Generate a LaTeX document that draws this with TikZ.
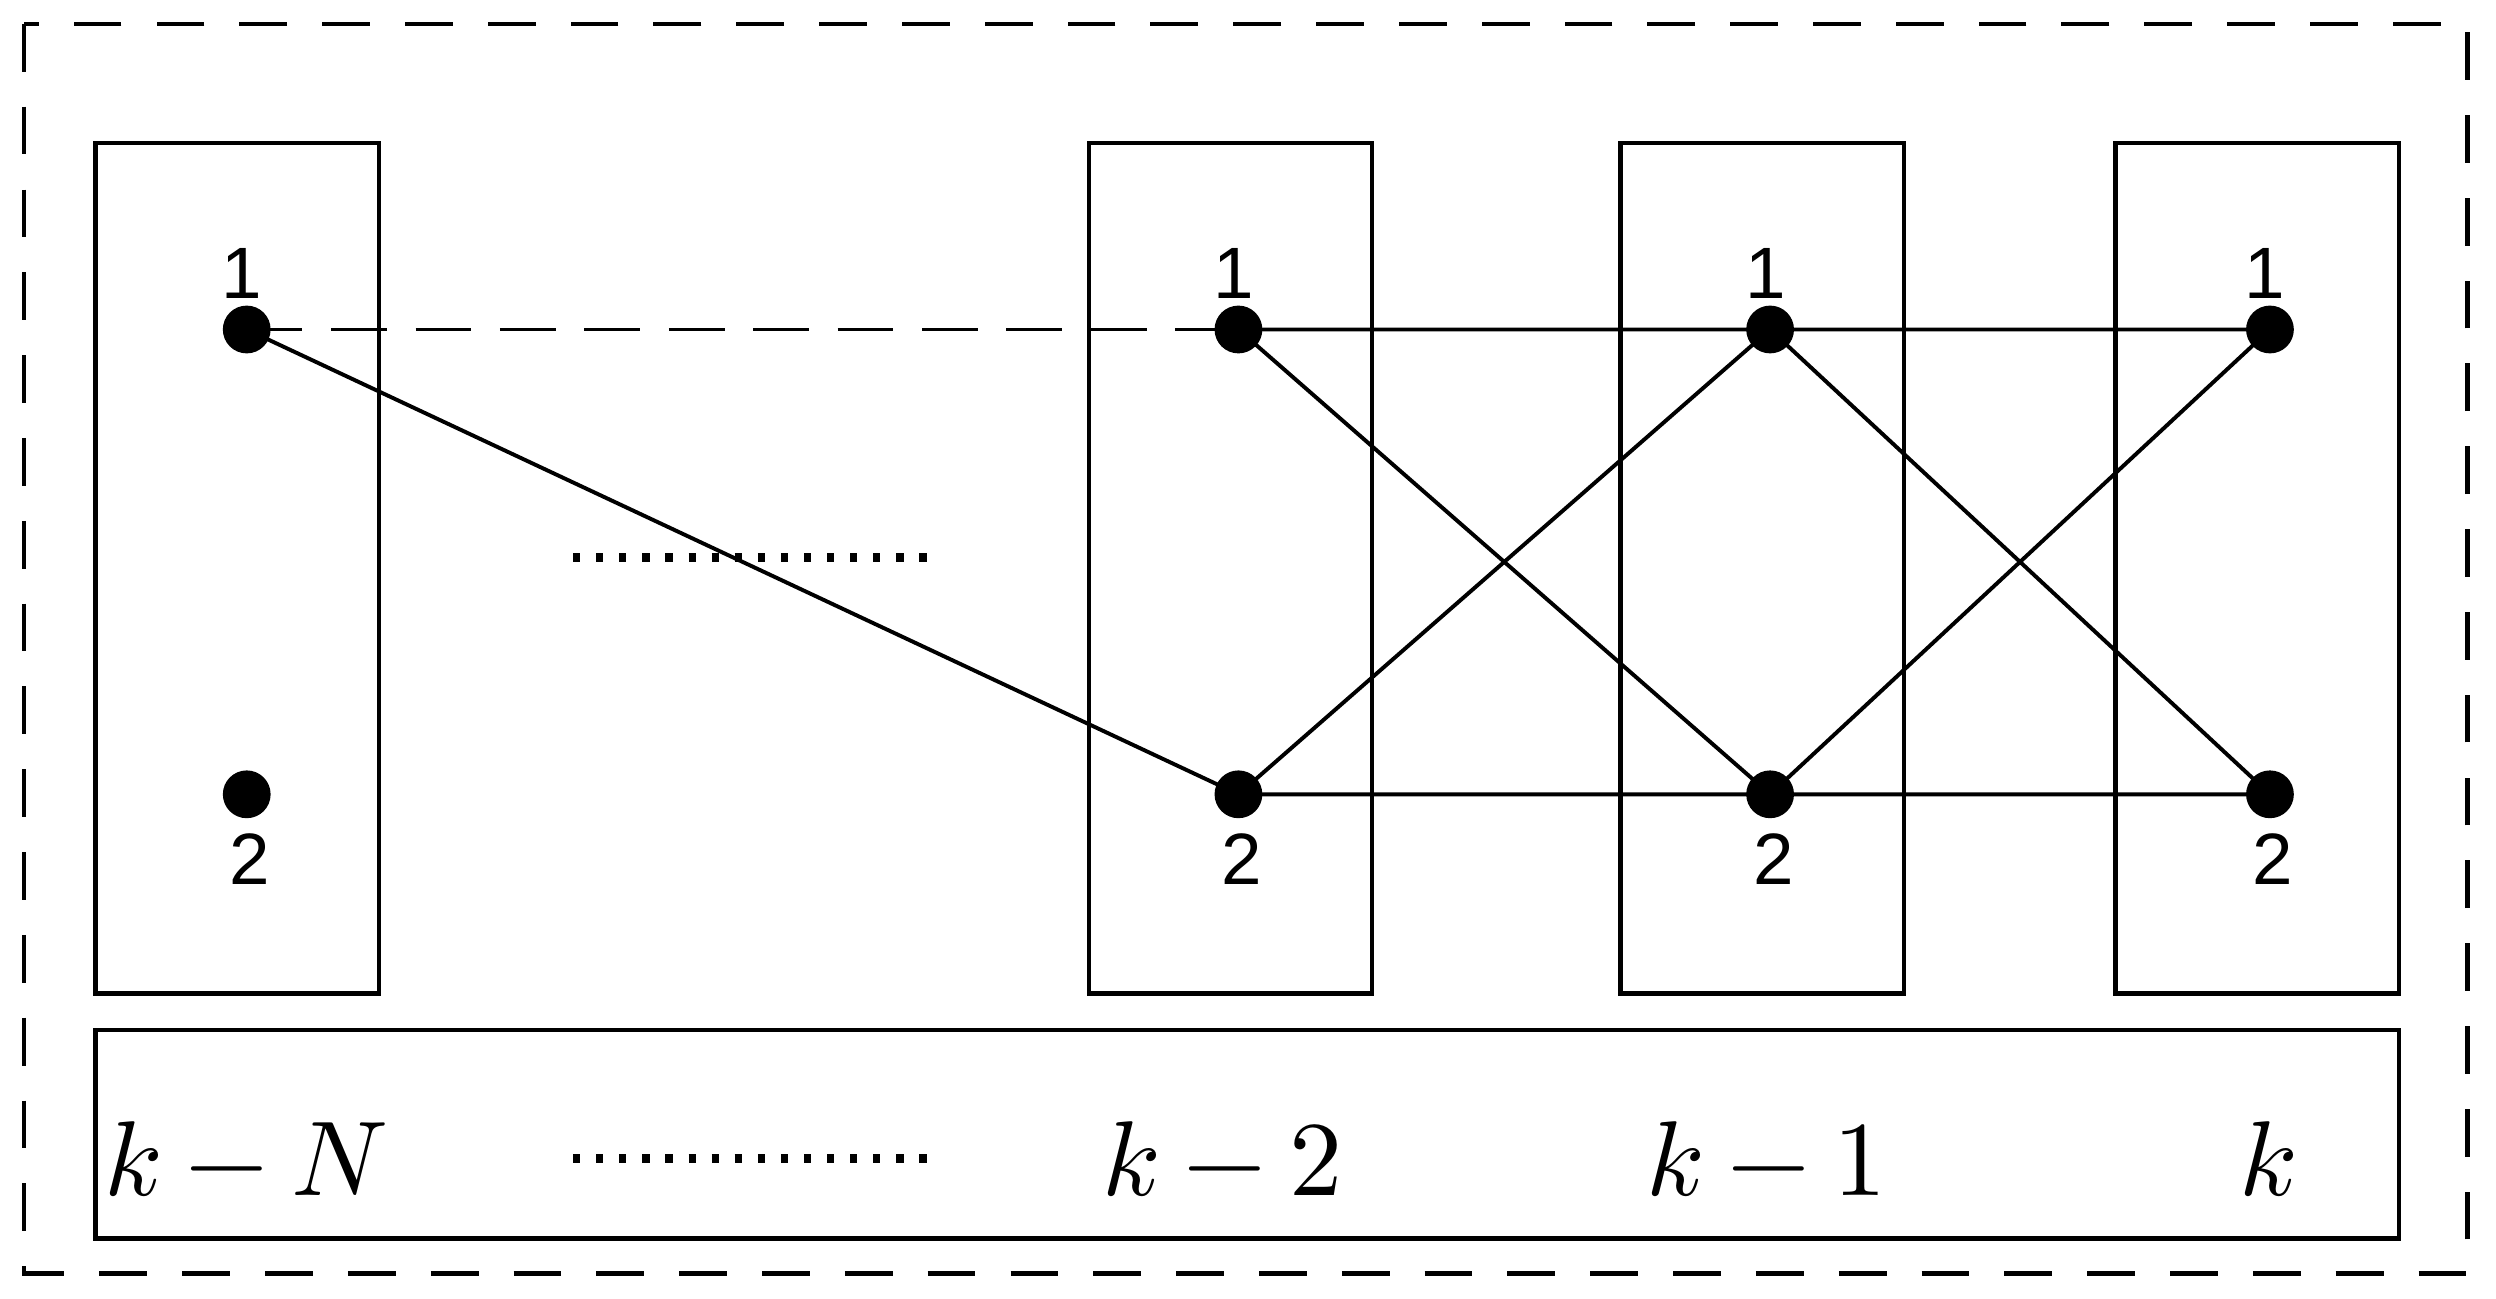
\documentclass[tikz,border=0pt]{standalone}
\usepackage{fontspec}
\setmainfont{Liberation Sans}
\usepackage{unicode-math}
\setmathfont{Latin Modern Math}
\begin{document}
\begin{tikzpicture}[x=0.01cm,y=-0.01cm,
  box/.style={draw,line width=0.8pt},
  dot/.style={circle,fill,inner sep=0pt,minimum size=0.3cm},
  lbl/.style={font=\fontsize{13}{15}\selectfont},
  edge/.style={line width=0.7pt},
  klbl/.style={font=\fontsize{19}{22}\selectfont}]
\useasboundingbox (0,0) rectangle (1568,816);
\draw[line width=0.8pt,dash pattern=on 0.3cm off 0.22cm] (15,15) rectangle (1550,800);
\foreach \x in {60,684,1018,1329}{\draw[box] (\x,90) rectangle ++(178,534);}
\draw[box] (60,647) rectangle (1507,778);
\foreach \n/\x in {a/155,b/778,c/1112,d/1426}{
  \node[dot] (\n1) at (\x,207) {};
  \node[dot] (\n2) at (\x,499) {};
  \node[lbl] at (\x-3,172) {1};
  \node[lbl] at (\x+2,540) {2};
}
\draw[edge,dash pattern=on 0.35cm off 0.18cm] (a1.center) -- (b1.center);
\draw[edge] (a1.center) -- (b2.center);
\draw[edge] (b1.center) -- (c1.center) (b1.center) -- (c2.center) (b2.center) -- (c1.center) (b2.center) -- (c2.center);
\draw[edge] (c1.center) -- (d1.center) (c1.center) -- (d2.center) (c2.center) -- (d1.center) (c2.center) -- (d2.center);
\coordinate (p1) at (360,350); \coordinate (p2) at (590,350);
\draw[line width=1.6pt,dash pattern=on 0.045cm off 0.1cm] (p1) -- (p2);
\coordinate (q1) at (360,728); \coordinate (q2) at (590,728);
\draw[line width=1.6pt,dash pattern=on 0.045cm off 0.1cm] (q1) -- (q2);
\node[klbl] (l1) at (155,728) {$k-N$};
\node[klbl] (l2) at (768,728) {$k-2$};
\node[klbl] (l3) at (1110,728) {$k-1$};
\node[klbl] (l4) at (1425,728) {$k$};
\end{tikzpicture}
\end{document}
